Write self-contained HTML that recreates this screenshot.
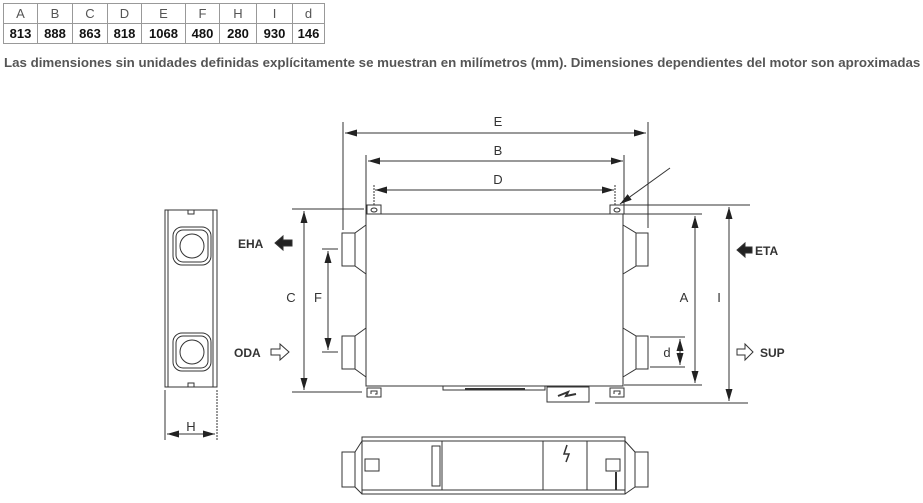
<!DOCTYPE html>
<html><head><meta charset="utf-8"><style>
body{margin:0;background:#fff;width:923px;height:503px;overflow:hidden;position:relative;font-family:"Liberation Sans",Arial,sans-serif}
table{position:absolute;left:3px;top:3px;border-collapse:collapse;font-size:13px}
td{border:1px solid #999;height:19px;padding:0;text-align:center;color:#333}
tr.h td{color:#555}
tr.v td{font-weight:bold;color:#111}
.cap{position:absolute;left:4px;top:55px;font-size:13.3px;font-weight:bold;color:#555;white-space:nowrap}
svg{position:absolute;left:0;top:0}
</style></head><body>
<table>
<tr class="h"><td style="width:33px">A</td><td style="width:34px">B</td><td style="width:34px">C</td><td style="width:33px">D</td><td style="width:43px">E</td><td style="width:33px">F</td><td style="width:36px">H</td><td style="width:35px">I</td><td style="width:31px">d</td></tr>
<tr class="v"><td>813</td><td>888</td><td>863</td><td>818</td><td>1068</td><td>480</td><td>280</td><td>930</td><td>146</td></tr>
</table>
<div class="cap">Las dimensiones sin unidades definidas explícitamente se muestran en milímetros (mm). Dimensiones dependientes del motor son aproximadas</div>
<svg width="923" height="503" viewBox="0 0 923 503">
<defs>
<marker id="a" markerWidth="12" markerHeight="7" refX="12" refY="3.5" orient="auto" markerUnits="userSpaceOnUse"><path d="M0,0L12,3.5L0,7z" fill="#222"/></marker>
<marker id="b" markerWidth="12" markerHeight="7" refX="0" refY="3.5" orient="auto" markerUnits="userSpaceOnUse"><path d="M12,0L0,3.5L12,7z" fill="#222"/></marker>
</defs>
<g stroke="#333" stroke-width="1" fill="none">
<line x1="343" y1="122" x2="343" y2="230"/><line x1="648" y1="122" x2="648" y2="228"/>
<line x1="345" y1="133" x2="646" y2="133" marker-start="url(#b)" marker-end="url(#a)"/>
<line x1="366" y1="155" x2="366" y2="214"/><line x1="624" y1="155" x2="624" y2="214"/>
<line x1="368" y1="161" x2="623" y2="161" marker-start="url(#b)" marker-end="url(#a)"/>
<line x1="374" y1="185" x2="374" y2="206" stroke-dasharray="2,1"/><line x1="615" y1="185" x2="615" y2="206" stroke-dasharray="2,1"/>
<line x1="375" y1="190" x2="614" y2="190" marker-start="url(#b)" marker-end="url(#a)"/>
<line x1="670" y1="168" x2="620" y2="204" marker-end="url(#a)"/>
<rect x="366" y="214" width="257" height="172"/>
<rect x="367" y="205" width="14" height="9"/><rect x="610" y="205" width="14" height="9"/>
<ellipse cx="374" cy="210" rx="3" ry="2"/><ellipse cx="617" cy="210" rx="3" ry="2"/>
<rect x="367" y="388" width="14" height="9"/><rect x="610" y="388" width="14" height="9"/>
<path d="M371,394v-3h6v3h-2M614,394v-3h6v3h-2"/>
<rect x="443" y="386" width="102" height="4"/><line x1="465" y1="389" x2="525" y2="389" stroke-width="2"/>
<rect x="547" y="387" width="42" height="15"/>
<path d="M558,396l10,-4l-2,4l10,-2" stroke-width="2"/>
<rect x="342" y="233" width="13" height="33"/><path d="M366,225L355,233M366,274L355,266"/>
<rect x="342" y="336" width="13" height="33"/><path d="M366,328L355,336M366,377L355,369"/>
<rect x="636" y="233" width="12" height="33"/><path d="M623,225L636,233M623,274L636,266"/>
<rect x="636" y="336" width="12" height="33"/><path d="M623,328L636,336M623,377L636,369"/>
<line x1="292" y1="209" x2="364" y2="209"/><line x1="292" y1="392" x2="362" y2="392"/>
<line x1="304" y1="211" x2="304" y2="390" marker-start="url(#b)" marker-end="url(#a)"/>
<line x1="322" y1="249" x2="338" y2="249"/><line x1="322" y1="352" x2="338" y2="352"/>
<line x1="328" y1="251" x2="328" y2="350" marker-start="url(#b)" marker-end="url(#a)"/>
<line x1="624" y1="205" x2="750" y2="205"/><line x1="623" y1="214" x2="702" y2="214"/>
<line x1="624" y1="385" x2="702" y2="385"/><line x1="595" y1="403" x2="748" y2="403"/>
<line x1="695" y1="216" x2="695" y2="383" marker-start="url(#b)" marker-end="url(#a)"/>
<line x1="729" y1="207" x2="729" y2="401" marker-start="url(#b)" marker-end="url(#a)"/>
<line x1="650" y1="337" x2="685" y2="337"/><line x1="650" y1="367" x2="685" y2="367"/>
<line x1="680" y1="339" x2="680" y2="365" marker-start="url(#b)" marker-end="url(#a)"/>
<rect x="165" y="210" width="52" height="177"/><line x1="168" y1="210" x2="168" y2="387"/><line x1="213" y1="210" x2="213" y2="387"/>
<rect x="188" y="210" width="6" height="4"/><rect x="188" y="383" width="6" height="4"/>
<rect x="173" y="227" width="38" height="38" rx="9"/><rect x="176" y="230" width="32" height="32" rx="7"/><circle cx="192" cy="246" r="12"/>
<rect x="173" y="333" width="38" height="38" rx="9"/><rect x="176" y="336" width="32" height="32" rx="7"/><circle cx="192" cy="352" r="12"/>
<line x1="165" y1="390" x2="165" y2="440"/><line x1="217" y1="390" x2="217" y2="440" stroke-dasharray="2,1"/>
<line x1="167" y1="434" x2="215" y2="434" marker-start="url(#b)" marker-end="url(#a)"/>
<rect x="362" y="437" width="263" height="57"/><line x1="362" y1="441" x2="625" y2="441"/><line x1="362" y1="490" x2="625" y2="490"/>
<line x1="442" y1="441" x2="442" y2="490"/><line x1="543" y1="441" x2="543" y2="490"/><line x1="587" y1="441" x2="587" y2="490"/>
<rect x="432" y="446" width="8" height="40"/>
<rect x="342" y="452" width="13" height="35"/><path d="M362,441L355,452M362,494L355,487"/>
<rect x="635" y="452" width="13" height="35"/><path d="M625,441L635,452M625,494L635,487"/>
<rect x="365" y="459" width="14" height="12"/><rect x="606" y="459" width="14" height="12"/>
<line x1="616" y1="472" x2="616" y2="490" stroke-width="2"/>
<path d="M567,445l-3,9h5l-3,8" stroke-width="1.5"/>
<path d="M275,243l8,-7v4h9v6h-9v4z" fill="#222"/>
<path d="M737,250l8,-7v4h7v6h-7v4z" fill="#222"/>
<path d="M271,349h9v-5l9,8l-9,8v-5h-9z"/>
<path d="M737,349h8v-5l8,8l-8,8v-5h-8z"/>
</g>
<g font-family="Liberation Sans,Arial,sans-serif" font-size="13" fill="#333" text-anchor="middle">
<text x="498" y="126">E</text><text x="498" y="155">B</text><text x="498" y="184">D</text>
<text x="291" y="302">C</text><text x="318" y="302">F</text>
<text x="684" y="302">A</text><text x="719" y="302">I</text>
<text x="667" y="357">d</text><text x="191" y="431">H</text>
<g font-size="12" font-weight="bold" text-anchor="start">
<text x="238" y="248">EHA</text><text x="234" y="357">ODA</text>
<text x="755" y="255">ETA</text><text x="760" y="357">SUP</text>
</g></g>
</svg>
</body></html>
